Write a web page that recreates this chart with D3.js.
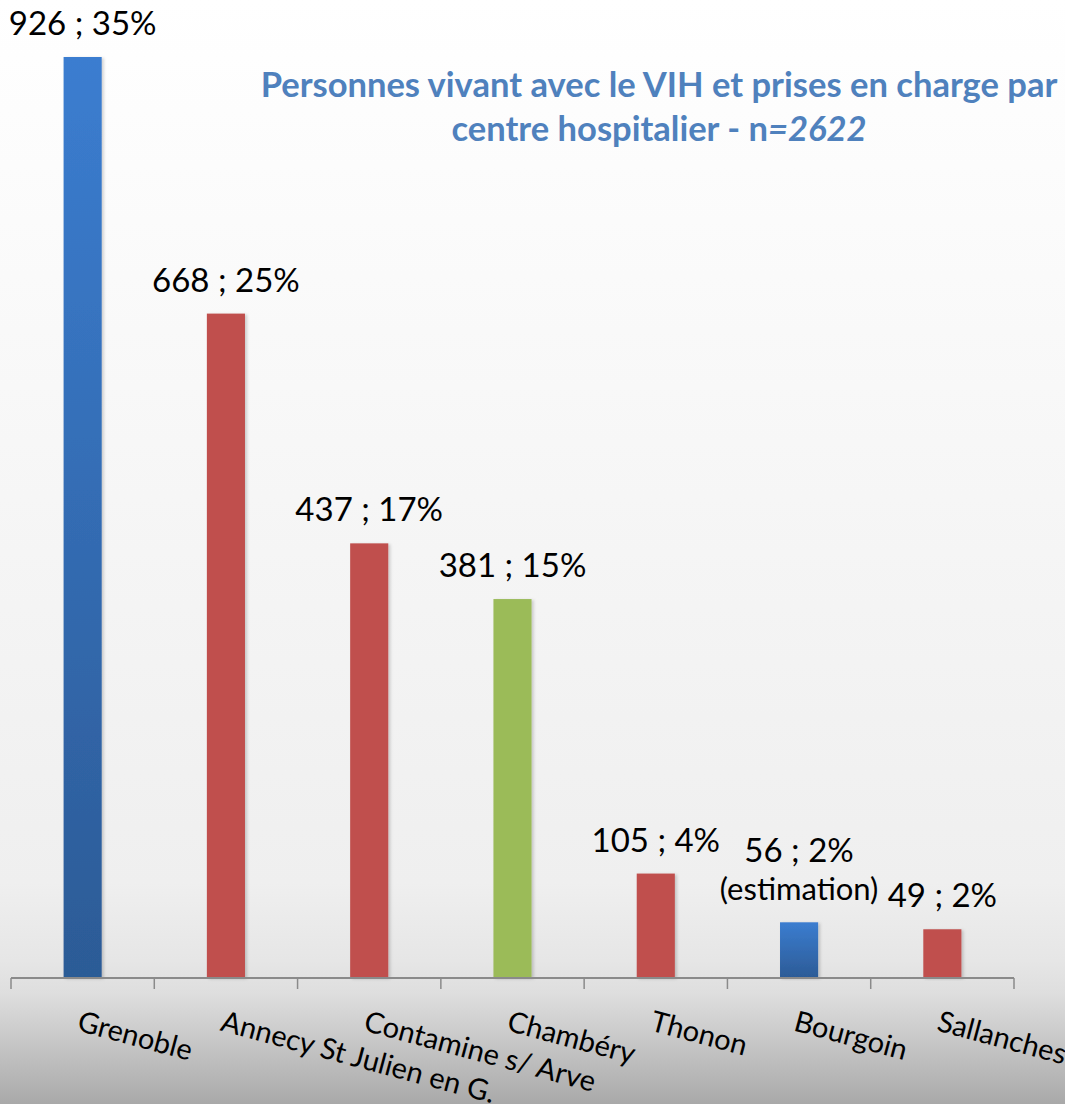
<!DOCTYPE html>
<html>
<head>
<meta charset="utf-8">
<script src="https://cdn.jsdelivr.net/npm/d3@7"></script>
<style>
	html, body { margin: 0; padding: 0; overflow: hidden; }
	svg { display: block; font-family: Lato, "Open Sans", sans-serif; }
</style>
</head>
<body>
<div id="chart"></div>
<script>
// data
var categories = ["Grenoble", "Annecy St Julien en G.", "Contamine s/ Arve", "Chambéry", "Thonon", "Bourgoin", "Sallanches"];
var counts = [926, 668, 437, 381, 105, 56, 49];
var percents = [35, 25, 17, 15, 4, 2, 2];
var notes = ["", "", "", "", "", "(estimation)", ""];
var groups = ["blue", "red", "red", "green", "red", "blue", "red"];

(function() {
	var width = 1065,
		height = 1104,
		axisY = 978,
		topY = 57;

	var svg = d3.select("#chart").append("svg")
		.attr("width", width)
		.attr("height", height);

	var defs = svg.append("defs");

	var bg = defs.append("linearGradient")
		.attr("id", "bg").attr("x1", 0).attr("y1", 0).attr("x2", 0).attr("y2", 1);
	[[0, "#ffffff"], [0.5, "#f5f5f5"], [0.8, "#efefef"], [0.87, "#e6e6e6"], [0.9, "#dedede"], [1, "#a9a9a9"]]
		.forEach(function(s) { bg.append("stop").attr("offset", s[0]).attr("stop-color", s[1]); });

	var blue = defs.append("linearGradient")
		.attr("id", "blueBar").attr("x1", 0).attr("y1", 0).attr("x2", 0).attr("y2", 1);
	blue.append("stop").attr("offset", 0).attr("stop-color", "#3b7dd0");
	blue.append("stop").attr("offset", 1).attr("stop-color", "#2c5b96");

	var shadow = defs.append("filter").attr("id", "shadow")
		.attr("x", "-20%").attr("y", "-5%").attr("width", "150%").attr("height", "110%");
	shadow.append("feDropShadow")
		.attr("dx", 2).attr("dy", 1).attr("stdDeviation", 1.5)
		.attr("flood-color", "#000").attr("flood-opacity", 0.18);

	svg.append("rect")
		.attr("width", width).attr("height", height)
		.attr("fill", "url(#bg)");

	var fills = { blue: "url(#blueBar)", red: "#c0504d", green: "#9bbb59" };

	var x = d3.scaleBand()
		.domain(categories)
		.range([11, 1014])
		.padding(0);

	var y = d3.scaleLinear()
		.domain([0, d3.max(counts)])
		.range([axisY, topY]);

	var barW = x.bandwidth() * 0.266;

	var data = categories.map(function(c, i) {
		return { name: c, count: counts[i], pct: percents[i], note: notes[i], group: groups[i] };
	});

	// bars
	svg.append("g").selectAll("rect")
		.data(data)
		.join("rect")
		.attr("x", d => x(d.name) + x.bandwidth() / 2 - barW / 2)
		.attr("y", d => y(d.count))
		.attr("width", barW)
		.attr("height", d => axisY - y(d.count))
		.attr("fill", d => fills[d.group])
		.attr("filter", "url(#shadow)");

	// x axis
	var axis = svg.append("g")
		.attr("transform", `translate(0,${axisY})`)
		.call(d3.axisBottom(x).tickSize(0).tickFormat(""));
	axis.select(".domain").remove();
	axis.append("line")
		.attr("x1", x.range()[0]).attr("x2", x.range()[1])
		.attr("stroke", "#8a8a8a").attr("stroke-width", 2);
	var edges = categories.map(c => x(c)).concat([x.range()[1]]);
	axis.selectAll(".edge")
		.data(edges)
		.join("line")
		.attr("class", "edge")
		.attr("x1", d => d).attr("x2", d => d)
		.attr("y1", 0).attr("y2", 11)
		.attr("stroke", "#8a8a8a").attr("stroke-width", 1.5);

	// category labels
	svg.append("g").selectAll("text")
		.data(data)
		.join("text")
		.attr("transform", d => `translate(${x(d.name) + x.bandwidth() / 2 - 1},1009) rotate(15)`)
		.attr("y", 22)
		.attr("font-size", 29)
		.attr("fill", "#000")
		.text(d => d.name);

	// value labels
	var labels = svg.append("g").selectAll("g")
		.data(data)
		.join("g")
		.attr("transform", d => `translate(${x(d.name) + x.bandwidth() / 2},${y(d.count) - 22})`);
	labels.append("text")
		.attr("text-anchor", "middle")
		.attr("font-size", 33)
		.attr("y", d => d.note ? -38 : 0)
		.text(d => `${d.count} ; ${d.pct}%`);
	labels.filter(d => d.note)
		.append("text")
		.attr("text-anchor", "middle")
		.attr("font-size", 31)
		.text(d => d.note);

	// title
	var title = svg.append("g")
		.attr("font-weight", "bold")
		.attr("fill", "#4f81bd")
		.attr("text-anchor", "middle");
	var t1 = title.append("text")
		.attr("x", 659).attr("y", 97)
		.attr("font-size", 29)
		.text("Personnes vivant avec le VIH et prises en charge par");
	var fit = 797 / t1.node().getComputedTextLength();
	var fs = 29 * fit;
	t1.attr("font-size", fs);
	var t2 = title.append("text")
		.attr("x", 659).attr("y", 141)
		.attr("font-size", fs);
	t2.append("tspan").text("centre hospitalier - n");
	t2.append("tspan").attr("font-style", "italic").text("=2622");
})();
</script>
</body>
</html>
